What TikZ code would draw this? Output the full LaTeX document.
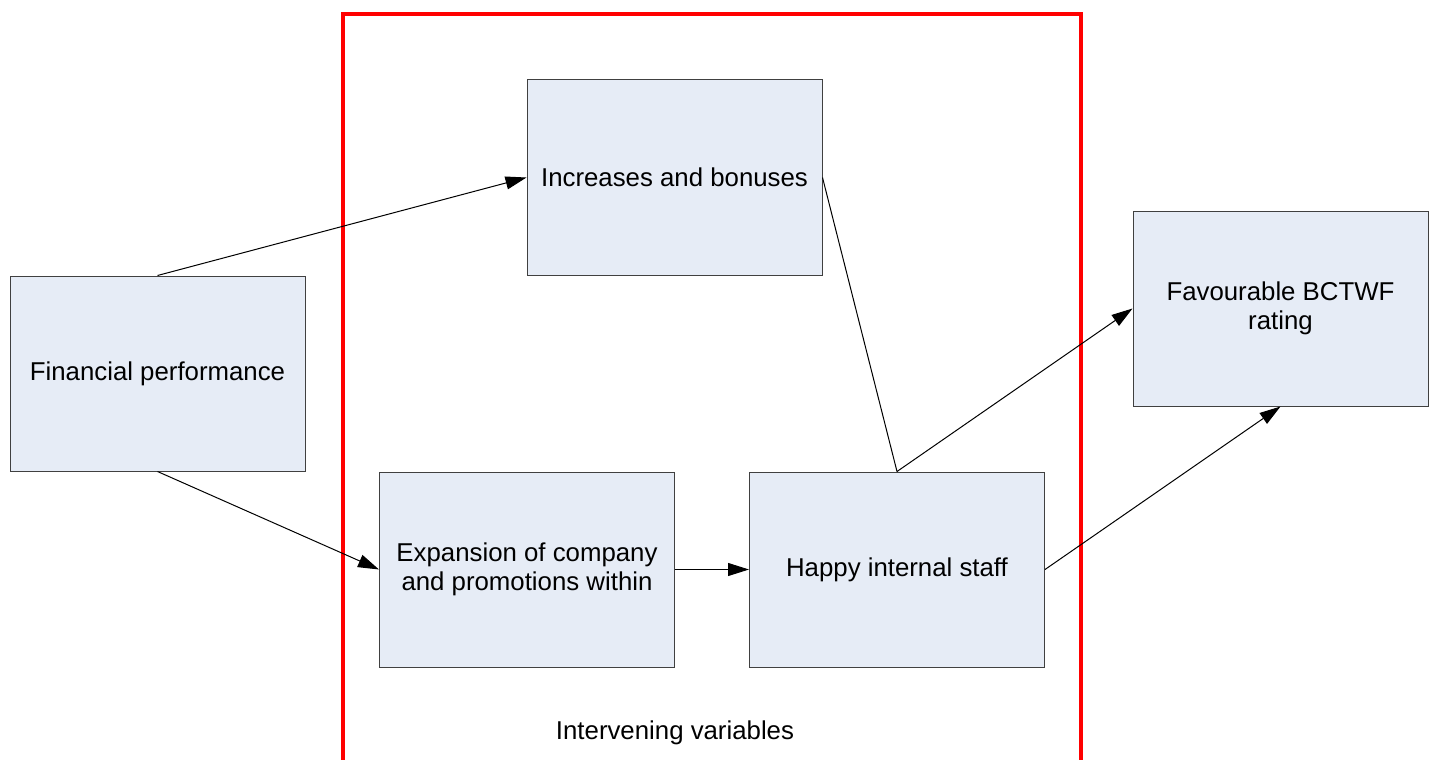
\documentclass[tikz,border=0pt]{standalone}
\usepackage{fontspec}
\setmainfont{Liberation Sans}
\usetikzlibrary{arrows.meta}
\definecolor{boxfill}{RGB}{230,236,246}
\definecolor{boxline}{RGB}{64,64,64}
\tikzset{
  vbox/.style={draw=boxline, line width=1pt, fill=boxfill, minimum width=295pt, minimum height=195pt, inner sep=0pt, align=center, font=\fontsize{25.8}{29.5}\selectfont},
  conn/.style={draw=black, line width=1pt},
  arr/.style={conn, -{Triangle[length=21pt,width=13pt]}}
}
\begin{document}
\begin{tikzpicture}[x=1pt,y=-1pt]
\useasboundingbox (0,0) rectangle (1435,760);
\clip (0,0) rectangle (1435,760);
\fill[white] (0,0) rectangle (1435,760);
\draw[red, line width=4.5pt] (343,800) -- (343,14) -- (1081,14) -- (1081,800);
\node[vbox] (fin) at (157.5,373.5) {Financial performance};
\node[vbox] (inc) at (674.5,177.5) {Increases and bonuses};
\node[vbox] (fav) at (1280.5,308.5) {Favourable BCTWF\\rating};
\node[vbox] (exp) at (527,569.5) {Expansion of company\\and promotions within};
\node[vbox] (hap) at (897,569.5) {Happy internal staff};
\node[font=\fontsize{25.8}{29.5}\selectfont] (iv) at (675,733) {Intervening variables};
\draw[arr] (fin.north) -- (inc.west);
\draw[arr] (fin.south) -- (exp.west);
\draw[arr] (exp.east) -- (hap.west);
\draw[conn] (inc.east) -- (hap.north);
\draw[arr] (hap.north) -- (fav.west);
\draw[arr] (hap.east) -- (fav.south);
\end{tikzpicture}
\end{document}
